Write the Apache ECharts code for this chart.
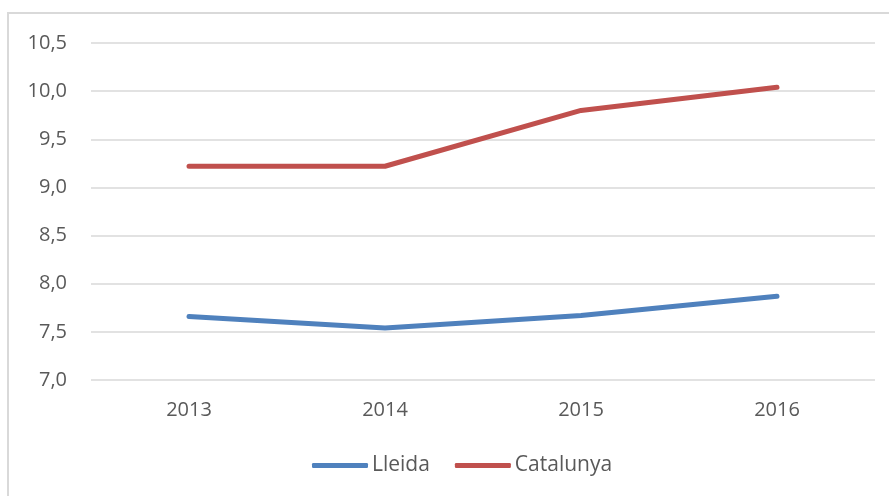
<!DOCTYPE html>
<html>
<head>
<meta charset="utf-8">
<script src="https://cdn.jsdelivr.net/npm/echarts@6/dist/echarts.min.js"></script>
<style>
html, body { margin: 0; padding: 0; background: #fff; }
#main { width: 889px; height: 496px; }
</style>
</head>
<body>
<div id="main"></div>
<script>
var years = ['2013', '2014', '2015', '2016'];
var lleida = [7.66, 7.54, 7.67, 7.87];
var catalunya = [9.22, 9.22, 9.80, 10.04];

var chart = echarts.init(document.getElementById('main'));

var option = {
	animation: false,
	textStyle: { fontFamily: 'Open Sans' },
	graphic: [{
		type: 'rect',
		shape: { x: 8, y: 13, width: 900, height: 500 },
		style: { fill: 'none', stroke: '#d9d9d9', lineWidth: 2 }
	}],
	legend: {
		data: ['Lleida', 'Catalunya'],
		left: 307,
		top: 450,
		itemWidth: 56,
		itemHeight: 5,
		itemGap: 25,
		icon: 'roundRect',
		textStyle: { color: '#595959', fontSize: 21, padding: [0, 0, 0, -1] }
	},
	grid: { left: 91, right: 14, top: 43, bottom: 116 },
	xAxis: {
		type: 'category',
		data: years,
		axisLine: { show: false },
		axisTick: { show: false },
		axisLabel: { color: '#595959', fontSize: 20, margin: 20 }
	},
	yAxis: {
		type: 'value',
		min: 7,
		max: 10.5,
		interval: 0.5,
		axisLine: { show: false },
		axisTick: { show: false },
		splitLine: { lineStyle: { color: '#d9d9d9', width: 1.5 } },
		axisLabel: {
			color: '#595959',
			fontSize: 20,
			margin: 24,
			formatter: function (v) { return v.toFixed(1).replace('.', ','); }
		}
	},
	series: [
		{
			name: 'Lleida',
			type: 'line',
			data: lleida,
			symbol: 'none',
			color: '#4f81bd',
			lineStyle: { width: 5, cap: 'round', join: 'round' }
		},
		{
			name: 'Catalunya',
			type: 'line',
			data: catalunya,
			symbol: 'none',
			color: '#c0504d',
			lineStyle: { width: 5, cap: 'round', join: 'round' }
		}
	]
};

chart.setOption(option);
</script>
</body>
</html>
